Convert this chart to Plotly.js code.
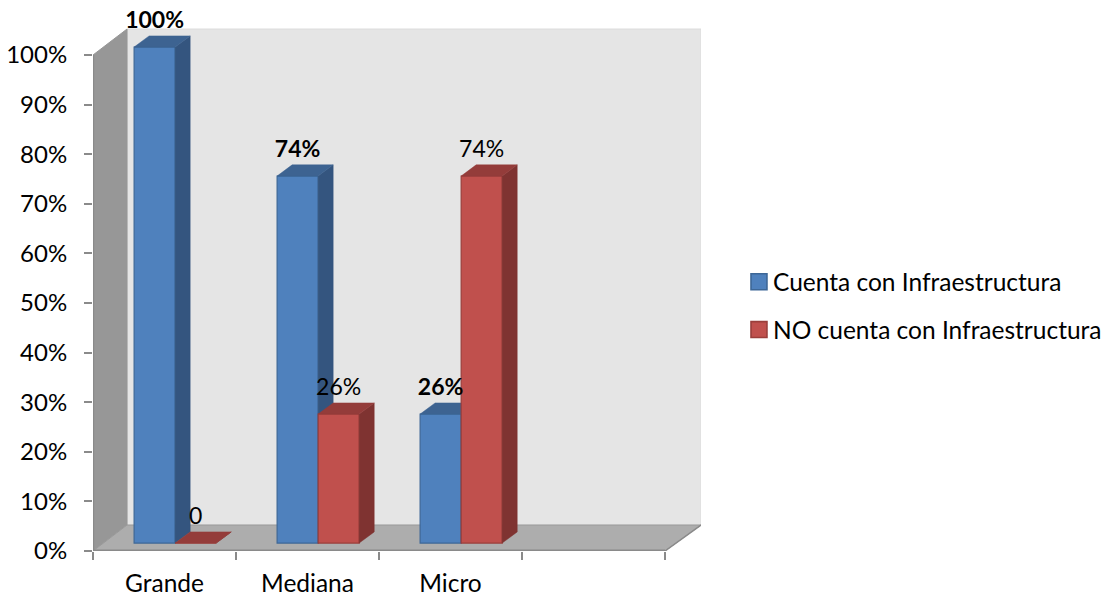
<!DOCTYPE html>
<html lang="es">
<head>
<meta charset="utf-8">
<title>Infraestructura por tamaño de empresa</title>
<script src="https://cdn.plot.ly/plotly-3.0.1.min.js"></script>
<style>html,body{margin:0;padding:0;background:#fff}</style>
</head>
<body>
<div id="chart" style="width:1113px;height:596px"></div>
<script>
// Chart data
const categories = ['Grande', 'Mediana', 'Micro'];
const seriesNames = ['Cuenta con Infraestructura', 'NO cuenta con Infraestructura'];
const cuentaValues = [100, 74, 26];
const noCuentaValues = [0, 26, 74];
const cuentaLabels = ['100%', '74%', '26%'];
const noCuentaLabels = ['0', '26%', '74%'];
const percentTicks = [0, 10, 20, 30, 40, 50, 60, 70, 80, 90, 100];

// Pseudo-3D geometry, in axis units (one x unit is one category slot)
const xMax = 4.2517, yMax = 111.09;
const wallDx = 0.238, wallDy = 5.24;      // depth of the walls and floor
const barWidth = 0.287, barLift = 1.6;    // bar width and its lift off the floor
const barDx = 0.105, barDy = 2.25;        // depth of a bar
const blueCentre = 0.431;                 // first bar of a slot, centre
const redCentre = blueCentre + barWidth;
const labelGap = 5.0;

const slots = categories.map((_, i) => i);
const blueX = slots.map(i => i + blueCentre);
const redX = slots.map(i => i + redCentre);

// Outlines of the top and side faces of a row of bars, null separated
function topFace(xs, vals) {
  const x = [], y = [];
  xs.forEach((c, i) => {
    const l = c - barWidth / 2, r = c + barWidth / 2, t = vals[i] + barLift;
    x.push(l, l + barDx, r + barDx, r, l, null);
    y.push(t, t + barDy, t + barDy, t, t, null);
  });
  return {x, y};
}
function sideFace(xs, vals) {
  const x = [], y = [];
  xs.forEach((c, i) => {
    const r = c + barWidth / 2, t = vals[i] + barLift;
    x.push(r, r + barDx, r + barDx, r, r, null);
    y.push(t, t + barDy, barLift + barDy, barLift, t, null);
  });
  return {x, y};
}
function face(poly, colour, axes) {
  return {type: 'scatter', mode: 'lines', x: poly.x, y: poly.y, fill: 'toself',
    fillcolor: colour, line: {width: 0.5, color: colour}, showlegend: false,
    hoverinfo: 'skip', xaxis: axes[0], yaxis: axes[1], cliponaxis: false};
}
function bars(xs, vals, name, fill, edge, axes) {
  return {type: 'bar', x: xs, y: vals, base: barLift, width: barWidth, name,
    marker: {color: fill, line: {color: edge, width: 1.2}},
    xaxis: axes[0], yaxis: axes[1], cliponaxis: false};
}
function labels(xs, vals, text, bold, axes) {
  return {type: 'scatter', mode: 'text', x: xs, y: vals.map(v => v + barLift + labelGap),
    text: bold ? text.map(t => '<b>' + t + '</b>') : text, textposition: 'middle center',
    textfont: {family: 'Lato, sans-serif', size: 23, color: '#000'},
    showlegend: false, hoverinfo: 'skip', xaxis: axes[0], yaxis: axes[1], cliponaxis: false};
}

const back = ['x', 'y'], front = ['x2', 'y2'];
const traces = [
  bars(blueX, cuentaValues, seriesNames[0], '#4f81bd', '#3d6797', back),
  face(sideFace(blueX, cuentaValues), '#34557f', back),
  face(topFace(blueX, cuentaValues), '#3d6391', back),
  bars(redX, noCuentaValues, seriesNames[1], '#c0504d', '#9a3e3b', front),
  face(sideFace(redX, noCuentaValues), '#7f3331', front),
  face(topFace(redX, noCuentaValues), '#943c3a', front),
  labels(blueX, cuentaValues, cuentaLabels, true, front),
  labels(redX, noCuentaValues, noCuentaLabels, false, front)
];

function poly(points) {
  return 'M' + points.map(p => p.join(',')).join('L') + 'Z';
}
const wallShapes = [
  {path: poly([[wallDx, wallDy], [xMax, wallDy], [xMax, 100 + wallDy], [wallDx, 100 + wallDy]]),
    fillcolor: '#e5e5e5', color: '#dcdcdc'},
  {path: poly([[0, 0], [wallDx, wallDy], [wallDx, 100 + wallDy], [0, 100]]),
    fillcolor: '#979797', color: '#979797'},
  {path: poly([[0, 0], [wallDx, wallDy], [xMax, wallDy], [4, 0]]),
    fillcolor: '#adadad', color: '#9a9a9a'}
].map(s => ({type: 'path', xref: 'x', yref: 'y', layer: 'below', path: s.path,
  fillcolor: s.fillcolor, line: {color: s.color, width: 1}}));
const axisLines = [
  [[0, 0], [0, 100], 2.5], [[0, 0], [4, 0], 3], [[4, 0], [xMax, wallDy], 1.5]
].map(([a, b, w]) => ({type: 'line', xref: 'x', yref: 'y', layer: 'below',
  x0: a[0], y0: a[1], x1: b[0], y1: b[1], line: {color: '#8a8a8a', width: w}}));

const layout = {
  width: 1113, height: 596,
  margin: {l: 93, r: 412, t: 0, b: 45},
  paper_bgcolor: '#fff', plot_bgcolor: 'rgba(0,0,0,0)',
  barmode: 'overlay',
  showlegend: true,
  font: {family: 'Lato, sans-serif', size: 22, color: '#000'},
  xaxis: {
    range: [0, xMax], showgrid: false, zeroline: false, showline: false,
    tickmode: 'array', tickvals: slots.map(i => i + 0.5), ticktext: categories,
    ticks: '', ticklabelstandoff: 15,
    tickfont: {family: 'Lato, sans-serif', size: 24.5},
    minor: {tickmode: 'array', tickvals: [0, 1, 2, 3, 4], ticks: 'outside', ticklen: 8,
      tickwidth: 1.5, tickcolor: '#8a8a8a', showgrid: false}
  },
  yaxis: {
    range: [0, yMax], showgrid: false, zeroline: false, showline: false,
    tickmode: 'array', tickvals: percentTicks, ticktext: percentTicks.map(v => v + '%'),
    ticks: 'outside', ticklen: 8, tickwidth: 1.5, tickcolor: '#8a8a8a',
    ticklabelstandoff: 12, tickfont: {family: 'Lato, sans-serif', size: 24}
  },
  xaxis2: {overlaying: 'x', range: [0, xMax], visible: false},
  yaxis2: {overlaying: 'y', range: [0, yMax], visible: false},
  legend: {
    x: 1.0526, xanchor: 'left', y: 0.445, yanchor: 'middle',
    tracegroupgap: 13, bgcolor: 'rgba(0,0,0,0)', itemclick: false, itemdoubleclick: false,
    font: {family: 'Lato, sans-serif', size: 24.5}
  },
  shapes: wallShapes.concat(axisLines)
};

traces[0].legendgroup = 'a';
traces[3].legendgroup = 'b';

Plotly.newPlot('chart', traces, layout, {displayModeBar: false, responsive: false}).then(() => {
  // Enlarge the legend swatches and move them next to their text
  document.querySelectorAll('.legend .legendpoints path').forEach(p => {
    p.setAttribute('transform', 'translate(26,0) scale(1.33)');
  });
});
</script>
</body>
</html>
